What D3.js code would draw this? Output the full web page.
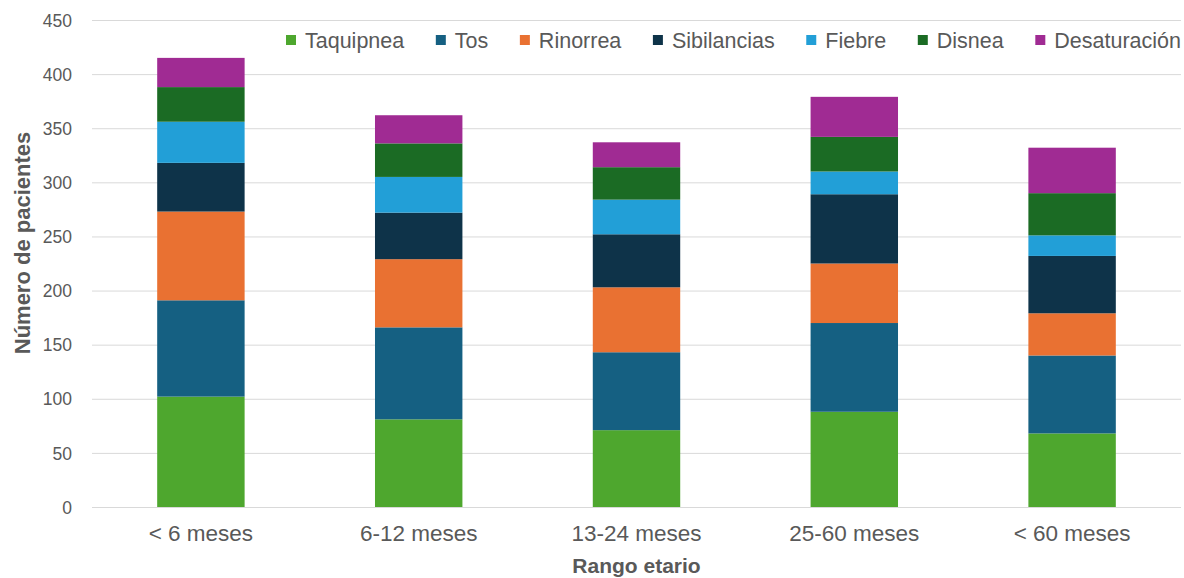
<!DOCTYPE html>
<html>
<head>
<meta charset="utf-8">
<script src="https://cdn.jsdelivr.net/npm/d3@7"></script>
<style>
  html, body { margin: 0; padding: 0; background: #ffffff; }
  svg { display: block; }
</style>
</head>
<body>
<svg id="chart" width="1184" height="578"></svg>
<script>
const categories = ["< 6 meses", "6-12 meses", "13-24 meses", "25-60 meses", "< 60 meses"];
const seriesNames = ["Taquipnea", "Tos", "Rinorrea", "Sibilancias", "Fiebre", "Disnea", "Desaturación"];
const taquipnea    = [102, 81, 71, 88, 68];
const tos          = [89, 85, 72, 82, 72];
const rinorrea     = [82, 63, 60, 55, 39];
const sibilancias  = [45, 43, 49, 64, 53];
const fiebre       = [38, 33, 32, 21, 19];
const disnea       = [32, 31, 30, 32, 39];
const desaturacion = [27, 26, 23, 37, 42];
const yTicks = [0, 50, 100, 150, 200, 250, 300, 350, 400, 450];
const colors = ["#4EA72E", "#156082", "#E97132", "#0E3349", "#229FD7", "#1B6B24", "#A02B93"];

const seriesValues = [taquipnea, tos, rinorrea, sibilancias, fiebre, disnea, desaturacion];
const table = categories.map((c, i) => {
  const row = { cat: c };
  seriesNames.forEach((s, j) => { row[s] = seriesValues[j][i]; });
  return row;
});

const svg = d3.select("#chart");
const margin = { left: 92, right: 1181, top: 20, bottom: 507 };

const x = d3.scaleBand().domain(categories).range([margin.left, margin.right]).paddingInner(0.5986).paddingOuter(0.2993);
const y = d3.scaleLinear().domain([0, 450]).range([margin.bottom, margin.top]);

const font = "'Liberation Sans', Arial, sans-serif";

// gridlines
svg.append("g").selectAll("line").data(yTicks).join("line")
  .attr("x1", margin.left).attr("x2", margin.right)
  .attr("y1", d => y(d) + 0.5).attr("y2", d => y(d) + 0.5)
  .attr("stroke", "#d9d9d9").attr("stroke-width", 1);

// y axis labels
const yAxis = d3.axisLeft(y).tickValues(yTicks).tickSize(0).tickPadding(0);
const yg = svg.append("g").attr("transform", `translate(72,0)`).call(yAxis);
yg.select(".domain").remove();
yg.selectAll("text").attr("font-family", font).attr("font-size", "17.5px").attr("fill", "#595959").attr("dy", "0.35em");

// x axis labels
const xAxis = d3.axisBottom(x).tickSize(0).tickPadding(0);
const xg = svg.append("g").attr("transform", `translate(0,${margin.bottom})`).call(xAxis);
xg.select(".domain").remove();
xg.selectAll("text").attr("font-family", font).attr("font-size", "22.5px").attr("fill", "#595959").attr("dy", "34px");

// stacked bars
const stack = d3.stack().keys(seriesNames);
const stacked = stack(table);
svg.append("g").selectAll("g").data(stacked).join("g")
  .attr("fill", (d, i) => colors[i])
  .selectAll("rect").data(d => d).join("rect")
  .attr("x", d => x(d.data.cat))
  .attr("width", x.bandwidth())
  .attr("y", d => y(d[1]))
  .attr("height", d => y(d[0]) - y(d[1]));

// axis titles
svg.append("text")
  .attr("x", x(categories[2]) + x.bandwidth() / 2).attr("y", 573)
  .attr("text-anchor", "middle")
  .attr("font-family", font).attr("font-size", "21px").attr("font-weight", "bold").attr("fill", "#595959")
  .text("Rango etario");

svg.append("text")
  .attr("transform", "translate(30,243) rotate(-90)")
  .attr("text-anchor", "middle")
  .attr("font-family", font).attr("font-size", "22px").attr("font-weight", "bold").attr("fill", "#595959")
  .text("Número de pacientes");

// legend
const legend = svg.append("g");
const groups = [];
let sumW = 0;
seriesNames.forEach((s, i) => {
  const g = legend.append("g");
  g.append("rect").attr("x", 0).attr("y", -5).attr("width", 10).attr("height", 10).attr("fill", colors[i]);
  const t = g.append("text").attr("x", 19).attr("y", 0).attr("dy", "0.35em")
    .attr("font-family", font).attr("font-size", "21.5px").attr("fill", "#595959").text(s);
  const w = 19 + t.node().getComputedTextLength();
  groups.push({ g, w });
  sumW += w;
});
const legStart = 286, legEnd = 1181;
const gap = (legEnd - legStart - sumW) / (groups.length - 1);
let lx = legStart;
groups.forEach(({ g, w }) => {
  g.attr("transform", `translate(${lx},40)`);
  lx += w + gap;
});
</script>
</body>
</html>
